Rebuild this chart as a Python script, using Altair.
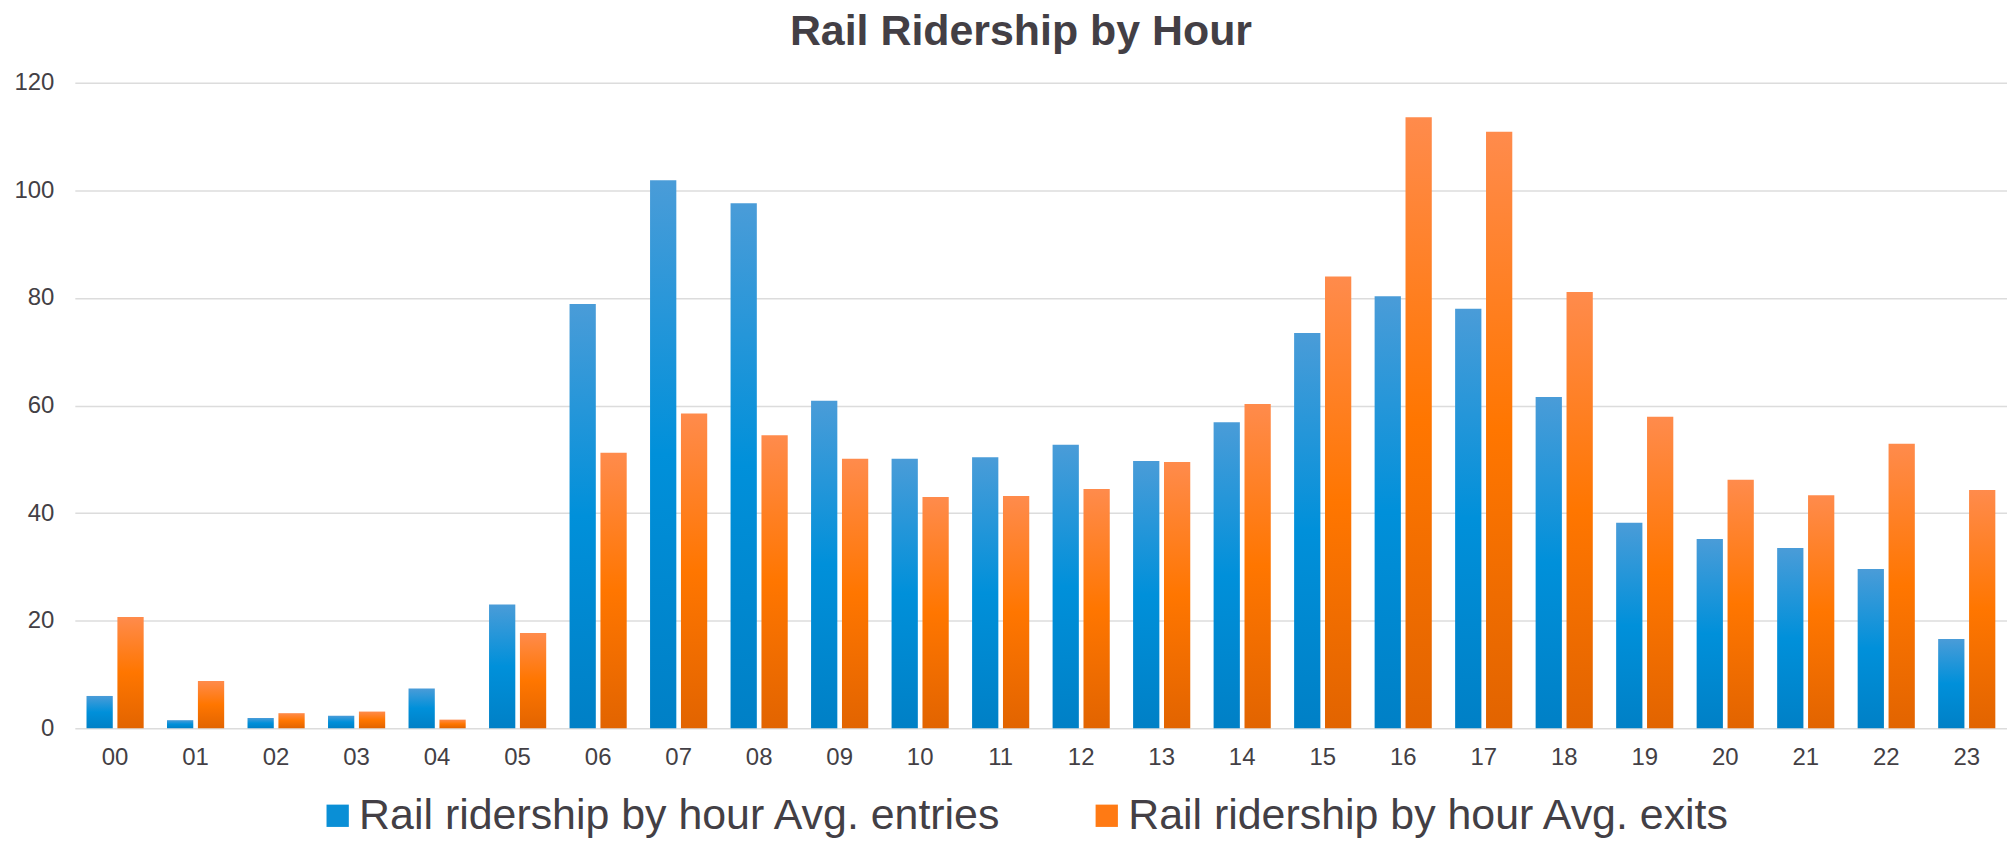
import altair as alt
import pandas as pd

hours = ["00", "01", "02", "03", "04", "05", "06", "07", "08", "09", "10", "11",
         "12", "13", "14", "15", "16", "17", "18", "19", "20", "21", "22", "23"]
entries = [6.0, 1.5, 1.9, 2.3, 7.4, 23.0, 78.9, 101.9, 97.6, 60.9, 50.1, 50.4,
           52.7, 49.7, 56.9, 73.5, 80.3, 78.0, 61.6, 38.2, 35.2, 33.5, 29.6, 16.6]
exits = [20.7, 8.8, 2.8, 3.1, 1.6, 17.7, 51.2, 58.5, 54.5, 50.1, 43.0, 43.2,
         44.5, 49.5, 60.3, 84.0, 113.6, 110.9, 81.1, 57.9, 46.2, 43.3, 52.9, 44.3]
series_names = ["Rail ridership by hour Avg. entries", "Rail ridership by hour Avg. exits"]
y_ticks = [0, 20, 40, 60, 80, 100, 120]

rows = []
for h, v in zip(hours, entries):
    rows.append({"hour": h, "series": series_names[0], "value": v})
for h, v in zip(hours, exits):
    rows.append({"hour": h, "series": series_names[1], "value": v})
df = pd.DataFrame(rows)

FONT = "Liberation Sans"
TEXT = "#433f45"

blue_grad = alt.LinearGradient(
    gradient="linear", x1=0, x2=0, y1=0, y2=1,
    stops=[alt.GradientStop(color="#4a9cd8", offset=0),
           alt.GradientStop(color="#0090da", offset=0.5),
           alt.GradientStop(color="#0080c6", offset=1)])
orange_grad = alt.LinearGradient(
    gradient="linear", x1=0, x2=0, y1=0, y2=1,
    stops=[alt.GradientStop(color="#ff8b4c", offset=0),
           alt.GradientStop(color="#ff7600", offset=0.5),
           alt.GradientStop(color="#e26400", offset=1)])

x_enc = alt.X("hour:N", sort=hours,
              scale=alt.Scale(paddingInner=0.29, paddingOuter=0.145),
              axis=alt.Axis(title=None, labelAngle=0, ticks=False, domain=False,
                            grid=False, labelFontSize=24, labelPadding=17,
                            labelColor=TEXT, labelFont=FONT))
y_enc = alt.Y("value:Q", scale=alt.Scale(domain=[0, 120], nice=False),
              axis=alt.Axis(title=None, values=y_ticks, ticks=False, domain=False,
                            gridColor="#dcdcdc", gridWidth=1.5,
                            labelFontSize=24, labelPadding=21,
                            labelColor=TEXT, labelFont=FONT))

bars = alt.Chart(df).mark_bar(strokeWidth=0).encode(
    x=x_enc,
    y=y_enc,
    xOffset=alt.XOffset("series:N", sort=series_names,
                        scale=alt.Scale(domain=series_names, paddingInner=0.15)),
    fill=alt.condition(alt.datum.series == series_names[0],
                       alt.value(blue_grad), alt.value(orange_grad)),
)

legend_layer = alt.Chart(df).mark_square(opacity=0, size=1).encode(
    color=alt.Color("series:N", sort=series_names,
                    scale=alt.Scale(domain=series_names, range=["#0a8fd6", "#ff7a14"]),
                    legend=alt.Legend(title=None, orient="none", direction="horizontal",
                                      legendX=242, legendY=713,
                                      symbolType="square", symbolSize=500,
                                      symbolOpacity=1, symbolStrokeWidth=0,
                                      labelFontSize=43, labelFont=FONT, labelColor=TEXT,
                                      labelLimit=2000, labelOffset=0,
                                      columnPadding=83)),
)

chart = alt.layer(bars, legend_layer).properties(
    width=1937,
    height=647,
    padding={"left": 5, "top": 2, "right": 0, "bottom": 0},
    title=alt.TitleParams("Rail Ridership by Hour", fontSize=43, fontWeight="bold",
                          color=TEXT, font=FONT, offset=17, anchor="middle", dx=-20),
).configure_view(stroke=None)

chart.save("out.html", embed_options={"renderer": "svg", "actions": False})
